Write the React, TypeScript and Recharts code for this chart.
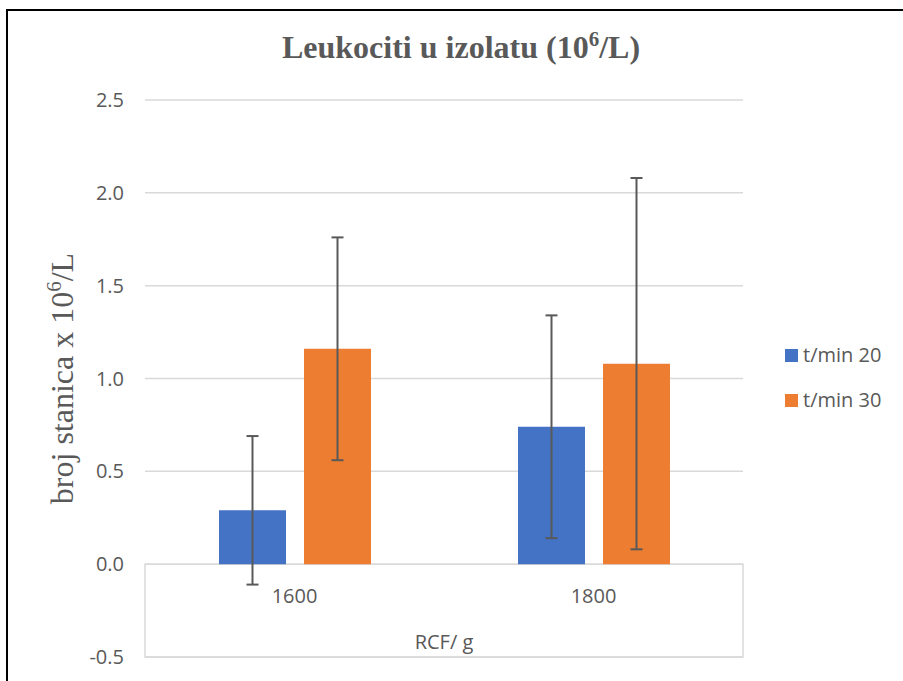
import * as React from "react"
import { Bar, BarChart, CartesianGrid, ErrorBar, ReferenceArea, XAxis, YAxis } from "recharts"

const categories = ["1600", "1800"]
const min20 = [0.29, 0.74]
const min30 = [1.16, 1.08]
const min20Err = [0.4, 0.6]
const min30Err = [0.6, 1.0]
const yTicks = [-0.5, 0, 0.5, 1.0, 1.5, 2.0, 2.5]
const seriesNames = ["t/min 20", "t/min 30"]

const data = categories.map((c, i) => ({
  rcf: c,
  t20: min20[i],
  t30: min30[i],
  e20: min20Err[i],
  e30: min30Err[i],
}))

const TEXT = "#595959"
const BLUE = "#4472C4"
const ORANGE = "#ED7D31"
const SANS = "'Open Sans', sans-serif"
const SERIF = "'Liberation Serif', 'Times New Roman', serif"

const CategoryTick = ({ x, y, payload }: any) => (
  <text x={x} y={y} dy={-54} textAnchor="middle" fill={TEXT} fontSize={20} fontFamily={SANS}>
    {payload.value}
  </text>
)

const YTitle = ({ viewBox }: any) => {
  const cx = viewBox.x + 43
  const cy = viewBox.y + viewBox.height / 2
  return (
    <text
      x={cx}
      y={cy}
      transform={`rotate(-90, ${cx}, ${cy})`}
      textAnchor="middle"
      fill={TEXT}
      fontSize={32}
      fontFamily={SERIF}
    >
      broj stanica x 10
      <tspan fontSize={21} dy={-12}>6</tspan>
      <tspan dy={12}>/L</tspan>
    </text>
  )
}

// legend drawn by hand so it doesn't eat into the plot width
const LegendBox = () => (
  <div
    style={{
      position: "absolute",
      left: 785,
      top: 343,
      display: "flex",
      flexDirection: "column",
      gap: 21,
    }}
  >
    {[BLUE, ORANGE].map((color, i) => (
      <div key={seriesNames[i]} style={{ display: "flex", alignItems: "center", height: 24 }}>
        <span style={{ width: 13, height: 13, background: color, marginRight: 5 }} />
        <span style={{ fontFamily: SANS, fontSize: 20, color: TEXT, lineHeight: "24px" }}>{seriesNames[i]}</span>
      </div>
    ))}
  </div>
)

export default function App() {
  return (
    <div style={{ position: "absolute", left: 0, top: 0, width: 903, height: 681, overflow: "hidden", background: "#fff" }}>
      <div
        style={{
          position: "absolute",
          left: 6,
          top: 9,
          width: 1000,
          height: 800,
          border: "2px solid #000",
        }}
      />
      <div
        style={{
          position: "absolute",
          left: 0,
          top: 32,
          width: 922,
          textAlign: "center",
          fontFamily: SERIF,
          fontWeight: "bold",
          fontSize: 32,
          lineHeight: "31px",
          color: TEXT,
        }}
      >
        Leukociti u izolatu (10<span style={{ fontSize: 21, position: "relative", top: -12 }}>6</span>/L)
      </div>
      <div style={{ position: "absolute", left: 0, top: 0 }}>
        <BarChart
          width={903}
          height={681}
          data={data}
          margin={{ top: 100, right: 160, bottom: 23, left: 30 }}
          barGap={18}
        >
          <CartesianGrid vertical={false} stroke="#d9d9d9" strokeWidth={1.5} />
          <ReferenceArea
            y1={-0.5}
            y2={0}
            fill="none"
            stroke="#d9d9d9"
            strokeWidth={1.5}
            label={{ value: "RCF/ g", position: "insideBottom", offset: 8, fill: TEXT, fontSize: 20, fontFamily: SANS }}
          />
          <XAxis
            dataKey="rcf"
            height={1}
            axisLine={false}
            tickLine={false}
            tickSize={0}
            tickMargin={0}
            interval={0}
            tick={(props: any) => <CategoryTick {...props} />}
          />
          <YAxis
            width={115}
            domain={[-0.5, 2.5]}
            ticks={yTicks}
            interval={0}
            axisLine={false}
            tickLine={false}
            tickSize={0}
            tickMargin={21}
            tickFormatter={(v: number) => v.toFixed(1)}
            tick={{ fill: TEXT, fontSize: 20, fontFamily: SANS }}
            label={YTitle}
          />
          <Bar dataKey="t20" name={seriesNames[0]} fill={BLUE} barSize={67} isAnimationActive={false}>
            <ErrorBar dataKey="e20" width={6} stroke={TEXT} strokeWidth={2} />
          </Bar>
          <Bar dataKey="t30" name={seriesNames[1]} fill={ORANGE} barSize={67} isAnimationActive={false}>
            <ErrorBar dataKey="e30" width={6} stroke={TEXT} strokeWidth={2} />
          </Bar>
        </BarChart>
      </div>
      <LegendBox />
    </div>
  )
}
